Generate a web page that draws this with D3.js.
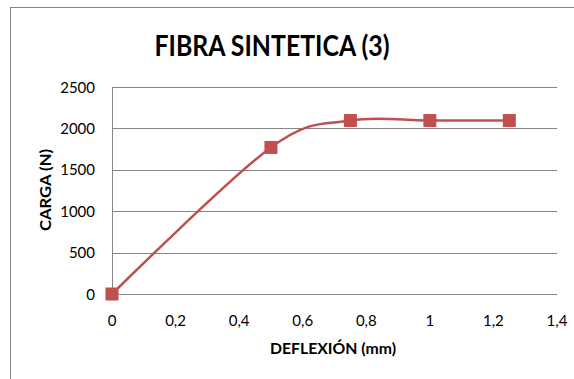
<!DOCTYPE html>
<html>
<head>
<meta charset="utf-8">
<script src="https://cdn.jsdelivr.net/npm/d3@7"></script>
<style>
  body { margin: 0; background: #fff; }
  text { font-family: Lato, "Open Sans", sans-serif; fill: #000; }
</style>
</head>
<body>
<div id="viz"></div>
<script>
// data
var deflexion = [0, 0.5, 0.75, 1.0, 1.25];
var carga = [0, 1770, 2095, 2095, 2095];
var xTicks = [0, 0.2, 0.4, 0.6, 0.8, 1, 1.2, 1.4];
var yTicks = [0, 500, 1000, 1500, 2000, 2500];

var W = 574, H = 379;
var margin = { top: 87, right: 17, bottom: 85, left: 112 },
  width = W - margin.left - margin.right,
  height = H - margin.top - margin.bottom;

var svg = d3.select("#viz").append("svg")
  .attr("width", W)
  .attr("height", H);

// outer chart frame
svg.append("rect")
  .attr("x", 10.5).attr("y", 7.5)
  .attr("width", W).attr("height", H)
  .attr("fill", "none")
  .attr("stroke", "#868686");

svg.append("text")
  .attr("x", 272).attr("y", 56)
  .attr("text-anchor", "middle")
  .style("font-size", "28px")
  .style("font-weight", "bold")
  .attr("textLength", 235)
  .attr("lengthAdjust", "spacingAndGlyphs")
  .text("FIBRA SINTETICA (3)");

var g = svg.append("g")
  .attr("transform", "translate(" + margin.left + "," + margin.top + ")");

var xScale = d3.scaleLinear().domain([0, 1.4]).range([0, width]);
var yScale = d3.scaleLinear().domain([0, 2500]).range([height, 0]);

// gridlines
g.selectAll(".grid")
  .data(yTicks)
  .enter().append("line")
  .attr("x1", 0).attr("x2", width)
  .attr("y1", function (d) { return Math.round(yScale(d)) + 0.5; })
  .attr("y2", function (d) { return Math.round(yScale(d)) + 0.5; })
  .attr("stroke", "#868686");

g.append("line")
  .attr("x1", 0.5).attr("x2", 0.5)
  .attr("y1", 0).attr("y2", height)
  .attr("stroke", "#868686");

// tick labels
var fmt = function (d) { return String(d).replace(".", ","); };
g.selectAll(".xlab")
  .data(xTicks)
  .enter().append("text")
  .attr("x", function (d) { return xScale(d); })
  .attr("y", height + 32)
  .attr("text-anchor", "middle")
  .style("font-size", "15px")
  .text(fmt);

g.selectAll(".ylab")
  .data(yTicks)
  .enter().append("text")
  .attr("x", -17)
  .attr("y", function (d) { return yScale(d) + 5.5; })
  .attr("text-anchor", "end")
  .style("font-size", "15px")
  .text(function (d) { return d; });

// axis titles
svg.append("text")
  .attr("x", 333).attr("y", 354)
  .attr("text-anchor", "middle")
  .style("font-size", "15px")
  .style("font-weight", "bold")
  .attr("textLength", 126)
  .attr("lengthAdjust", "spacingAndGlyphs")
  .text("DEFLEXIÓN (mm)");

svg.append("text")
  .attr("transform", "translate(51,190) rotate(-90)")
  .attr("text-anchor", "middle")
  .style("font-size", "15px")
  .style("font-weight", "bold")
  .attr("textLength", 82)
  .attr("lengthAdjust", "spacingAndGlyphs")
  .text("CARGA (N)");

var pts = deflexion.map(function (d, i) { return [d, carga[i]]; });

var line = d3.line()
  .x(function (d) { return xScale(d[0]); })
  .y(function (d) { return yScale(d[1]); })
  .curve(d3.curveCardinal.tension(0));

g.append("path")
  .datum(pts)
  .attr("d", line)
  .attr("fill", "none")
  .attr("stroke", "#C0504D")
  .attr("stroke-width", 2.5);

g.selectAll(".mark")
  .data(pts)
  .enter().append("rect")
  .attr("x", function (d) { return xScale(d[0]) - 6.5; })
  .attr("y", function (d) { return yScale(d[1]) - 6.5; })
  .attr("width", 13).attr("height", 13)
  .attr("fill", "#C0504D");
</script>
</body>
</html>
